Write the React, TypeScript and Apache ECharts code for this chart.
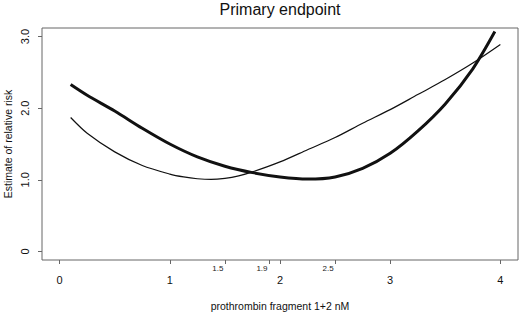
import { useEffect, useRef } from "react";
import * as echarts from "echarts";

const titleText = "Primary endpoint";
const xAxisTitle = "prothrombin fragment 1+2 nM";
const yAxisTitle = "Estimate of relative risk";
const majorXTicks = [0, 1, 2, 3, 4];
const minorXTicks = [1.5, 1.9, 2.5];
const yTicks = [0, 1, 2, 3];

const thinX = [0.1, 0.25, 0.5, 0.75, 1.0, 1.125, 1.25, 1.375, 1.5, 1.625, 1.75, 2.0, 2.25, 2.5, 2.75, 3.0, 3.25, 3.5, 3.75, 4.0];
const thinY = [1.87, 1.65, 1.39, 1.2, 1.08, 1.04, 1.015, 1.005, 1.02, 1.055, 1.11, 1.25, 1.42, 1.59, 1.79, 1.98, 2.19, 2.4, 2.63, 2.89];

const thickX = [0.1, 0.25, 0.5, 0.75, 1.0, 1.25, 1.5, 1.75, 2.0, 2.25, 2.5, 2.75, 3.0, 3.25, 3.5, 3.75, 3.95];
const thickY = [2.33, 2.18, 1.96, 1.72, 1.5, 1.32, 1.19, 1.1, 1.04, 1.01, 1.04, 1.16, 1.37, 1.68, 2.06, 2.55, 3.07];

export default function App() {
  const ref = useRef<HTMLDivElement>(null);
  useEffect(() => {
    const chart = echarts.init(ref.current!, null, { renderer: "svg" });
    const font = "'Liberation Sans', Arial, Helvetica, sans-serif";
    const axisGray = "#666";
    const xBase = {
      type: "value",
      min: -0.16,
      max: 4.16,
      position: "bottom",
      offset: 0,
      gridIndex: 0,
      axisLine: { show: false, onZero: false },
      splitLine: { show: false },
    };
    chart.setOption({
      animation: false,
      textStyle: { fontFamily: font },
      title: {
        text: titleText,
        left: 280,
        top: 1,
        padding: 0,
        textAlign: "center",
        textStyle: { fontSize: 16, fontWeight: "normal", color: "#111", fontFamily: font },
      },
      grid: {
        left: 42,
        top: 28,
        right: 2,
        bottom: 52,
        show: true,
        borderColor: axisGray,
        borderWidth: 1,
        containLabel: false,
        outerBoundsMode: "none",
      },
      xAxis: [
        {
          ...xBase,
          name: xAxisTitle,
          nameLocation: "middle",
          nameGap: 40,
          nameMoveOverlap: false,
          nameTextStyle: { fontSize: 10.5, color: "#111", fontFamily: font },
          axisTick: { show: true, length: 4, customValues: majorXTicks, lineStyle: { color: axisGray } },
          axisLabel: { customValues: majorXTicks, margin: 14, fontSize: 11, color: "#111", fontFamily: font },
        },
        {
          ...xBase,
          axisTick: { show: true, length: 4, customValues: minorXTicks, lineStyle: { color: axisGray } },
          axisLabel: {
            customValues: minorXTicks,
            margin: 4,
            fontSize: 8,
            color: "#222",
            fontFamily: font,
            padding: [0, 14, 0, 0],
            formatter: (v: number) => String(v),
          },
        },
      ],
      yAxis: {
        type: "value",
        min: -0.12,
        max: 3.12,
        name: yAxisTitle,
        nameLocation: "middle",
        nameGap: 29,
        nameMoveOverlap: false,
        nameTextStyle: { fontSize: 10.5, color: "#111", fontFamily: font },
        axisLine: { show: false, onZero: false },
        splitLine: { show: false },
        axisTick: { show: true, length: 4, customValues: yTicks, lineStyle: { color: axisGray } },
        axisLabel: {
          customValues: yTicks,
          rotate: 90,
          margin: 12,
          fontSize: 11,
          color: "#111",
          fontFamily: font,
          formatter: (v: number) => (v === 0 ? "0" : v.toFixed(1)),
        },
      },
      series: [
        {
          type: "line",
          data: thinX.map((x, i) => [x, thinY[i]]),
          smooth: 0.3,
          symbol: "none",
          xAxisIndex: 0,
          lineStyle: { color: "#111", width: 1.2 },
        },
        {
          type: "line",
          data: thickX.map((x, i) => [x, thickY[i]]),
          smooth: 0.3,
          symbol: "none",
          xAxisIndex: 0,
          lineStyle: { color: "#111", width: 3 },
        },
      ],
    });
    return () => chart.dispose();
  }, []);
  return <div ref={ref} style={{ position: "absolute", left: 0, top: 0, width: 520, height: 312 }} />;
}
